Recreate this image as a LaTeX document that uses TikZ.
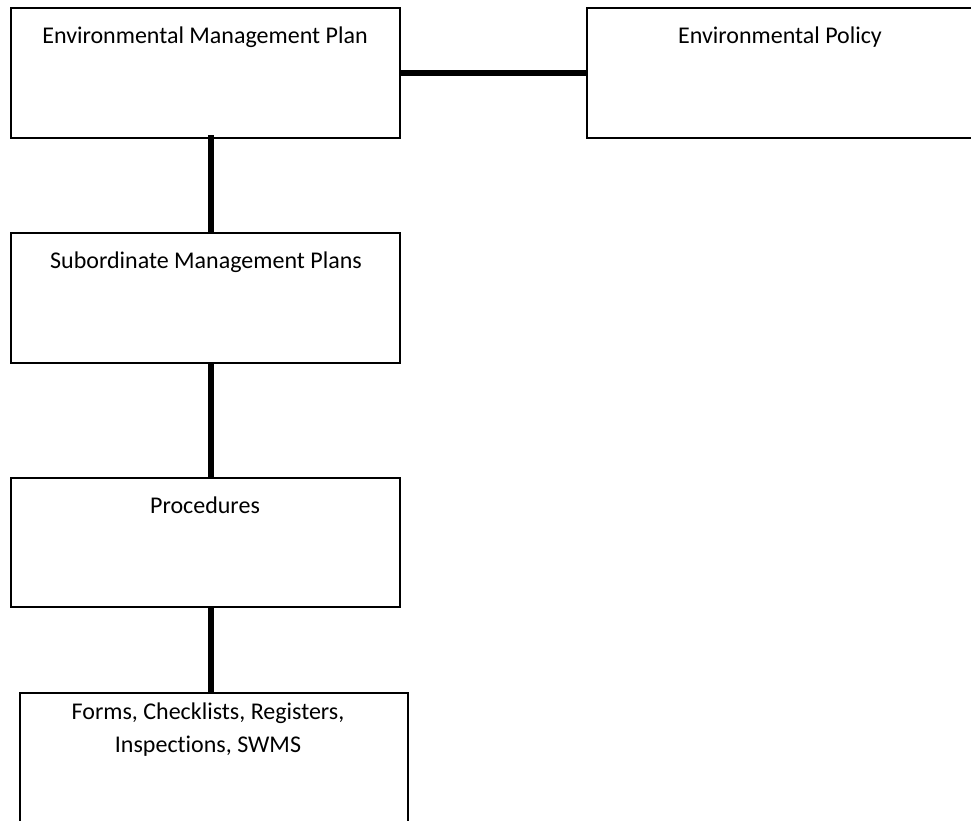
\documentclass[tikz,border=0pt]{standalone}
\usepackage{fontspec}
\setmainfont[Ligatures={NoCommon}]{Carlito}
\begin{document}
\begin{tikzpicture}[x=1pt,y=-1pt,
  box/.style={draw=black, line width=1.3pt, rectangle, inner sep=0pt, outer sep=0pt, minimum height=130pt},
  conn/.style={draw=black, line width=5.5pt},
  lbl/.style={anchor=base, inner sep=0pt, font=\fontsize{24}{34}\selectfont, align=center}]
\useasboundingbox (0,0) rectangle (971,820);
% boxes
\node[box, minimum width=389pt] (emp) at (205.5,73) {};
\node[box, minimum width=386pt] (ep) at (780,73) {};
\node[box, minimum width=389pt] (smp) at (205.5,298) {};
\node[box, minimum width=389pt, minimum height=129pt] (proc) at (205.5,542.5) {};
\node[box, minimum width=388pt, minimum height=137pt] (forms) at (214,761.5) {};
% texts
\node[lbl] (tEmp) at (205,43) {Environmental Management Plan};
\node[lbl] (tEp) at (780,43) {Environmental Policy};
\node[lbl] (tSmp) at (206,268) {Subordinate Management Plans};
\node[lbl] (tProc) at (205,513) {Procedures};
\node[lbl] (tForms1) at (208,719) {Forms, Checklists, Registers,};
\node[lbl] (tForms2) at (208,752) {Inspections, SWMS};
% connectors
\draw[conn] (emp.east) -- (ep.west);
\draw[conn] ([xshift=5.5pt,yshift=3pt]emp.south) -- ([xshift=5.5pt]smp.north);
\draw[conn] ([xshift=5.5pt]smp.south) -- ([xshift=5.5pt]proc.north);
\draw[conn] ([xshift=5.5pt]proc.south) -- ([xshift=5.5pt]proc.south |- forms.north);
\end{tikzpicture}
\end{document}
